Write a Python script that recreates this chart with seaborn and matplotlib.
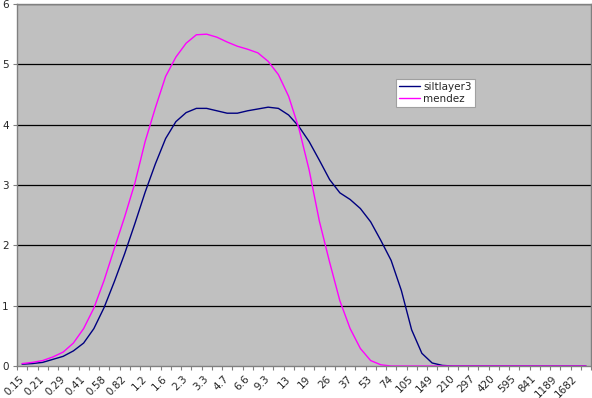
import numpy as np
import pandas as pd
import matplotlib
matplotlib.use("Agg")
import matplotlib.pyplot as plt
import seaborn as sns

categories = ["0.15", "0.18", "0.21", "0.25", "0.29", "0.35", "0.41", "0.49",
              "0.58", "0.69", "0.82", "0.98", "1.2", "1.4", "1.6", "2.0",
              "2.3", "2.8", "3.3", "3.9", "4.7", "5.5", "6.6", "7.8",
              "9.3", "11", "13", "16", "19", "22", "26", "31",
              "37", "44", "53", "63", "74", "88", "105", "125",
              "149", "177", "210", "250", "297", "354", "420", "500",
              "595", "707", "841", "1000", "1189", "1414", "1682", "2000"]

siltlayer3 = [0.03, 0.04, 0.06, 0.11, 0.16, 0.25, 0.38, 0.62,
              0.97, 1.40, 1.86, 2.36, 2.88, 3.35, 3.77, 4.05,
              4.20, 4.27, 4.27, 4.23, 4.19, 4.19, 4.23, 4.26,
              4.29, 4.27, 4.16, 3.97, 3.72, 3.41, 3.09, 2.87,
              2.76, 2.61, 2.39, 2.08, 1.75, 1.25, 0.60, 0.21,
              0.05, 0.01, 0.0, 0.0, 0.0, 0.0, 0.0, 0.0,
              0.0, 0.0, 0.0, 0.0, 0.0, 0.0, 0.0, 0.0]

mendez = [0.04, 0.06, 0.09, 0.15, 0.23, 0.38, 0.62, 0.96,
          1.42, 1.95, 2.47, 3.03, 3.72, 4.28, 4.80, 5.12,
          5.35, 5.49, 5.50, 5.45, 5.37, 5.30, 5.25, 5.19,
          5.05, 4.83, 4.47, 3.94, 3.25, 2.40, 1.72, 1.08,
          0.62, 0.29, 0.09, 0.02, 0.0, 0.0, 0.0, 0.0,
          0.0, 0.0, 0.0, 0.0, 0.0, 0.0, 0.0, 0.0,
          0.0, 0.0, 0.0, 0.0, 0.0, 0.0, 0.0, 0.0]

series_names = ["siltlayer3", "mendez"]
series_colors = ["#000080", "#FF00FF"]
y_ticks = [0, 1, 2, 3, 4, 5, 6]

n = len(categories)
df = pd.DataFrame({
    "idx": list(range(n)) * 2,
    "value": siltlayer3 + mendez,
    "series": [series_names[0]] * n + [series_names[1]] * n,
})

sns.set_style("white", {"axes.facecolor": "#C0C0C0"})
plt.rcParams["font.family"] = ["DejaVu Sans"]

fig = plt.figure(figsize=(5.92, 3.98), dpi=100)
fig.patch.set_facecolor("white")
ax = fig.add_axes([17 / 592, (398 - 366) / 398, 574 / 592, 362 / 398])

sns.lineplot(data=df, x="idx", y="value", hue="series",
             palette=dict(zip(series_names, series_colors)),
             linewidth=1.0, ax=ax, legend=True)

ax.set_xlim(-0.5, n - 0.5)
ax.set_ylim(0, 6)
ax.set_xlabel("")
ax.set_ylabel("")

for y in y_ticks[1:]:
    ax.axhline(y, color="black", linewidth=0.9, zorder=1)

ax.set_yticks(y_ticks)
ax.set_yticklabels([str(v) for v in y_ticks], fontsize=7.5)
ax.set_xticks(range(0, n, 2))
ax.set_xticklabels([categories[i] for i in range(0, n, 2)], fontsize=7.5,
                   rotation=45, ha="right", va="center", rotation_mode="anchor")
ax.set_xticks(np.arange(-0.5, n, 1), minor=True)
ax.tick_params(axis="x", which="major", length=0, pad=8)
ax.tick_params(axis="x", which="minor", length=3, color="#808080", width=0.8)
ax.tick_params(axis="y", length=3, color="#808080", width=0.8, pad=3)
ax.yaxis.tick_left()
ax.xaxis.tick_bottom()

for s in ["top", "right", "left", "bottom"]:
    ax.spines[s].set_visible(True)
    ax.spines[s].set_color("#808080")
    ax.spines[s].set_linewidth(1.0)

leg = ax.legend(loc="upper left", bbox_to_anchor=(0.660, 0.793), borderaxespad=0,
                fontsize=7.5, frameon=True, fancybox=False, shadow=False,
                handlelength=2.0, handletextpad=0.3, borderpad=0.3,
                labelspacing=0.2, title=None)
leg.get_frame().set_edgecolor("#A0A0A0")
leg.get_frame().set_facecolor("white")
leg.get_frame().set_linewidth(0.8)
leg.get_frame().set_alpha(1.0)

fig.savefig("out.png", dpi=100)
